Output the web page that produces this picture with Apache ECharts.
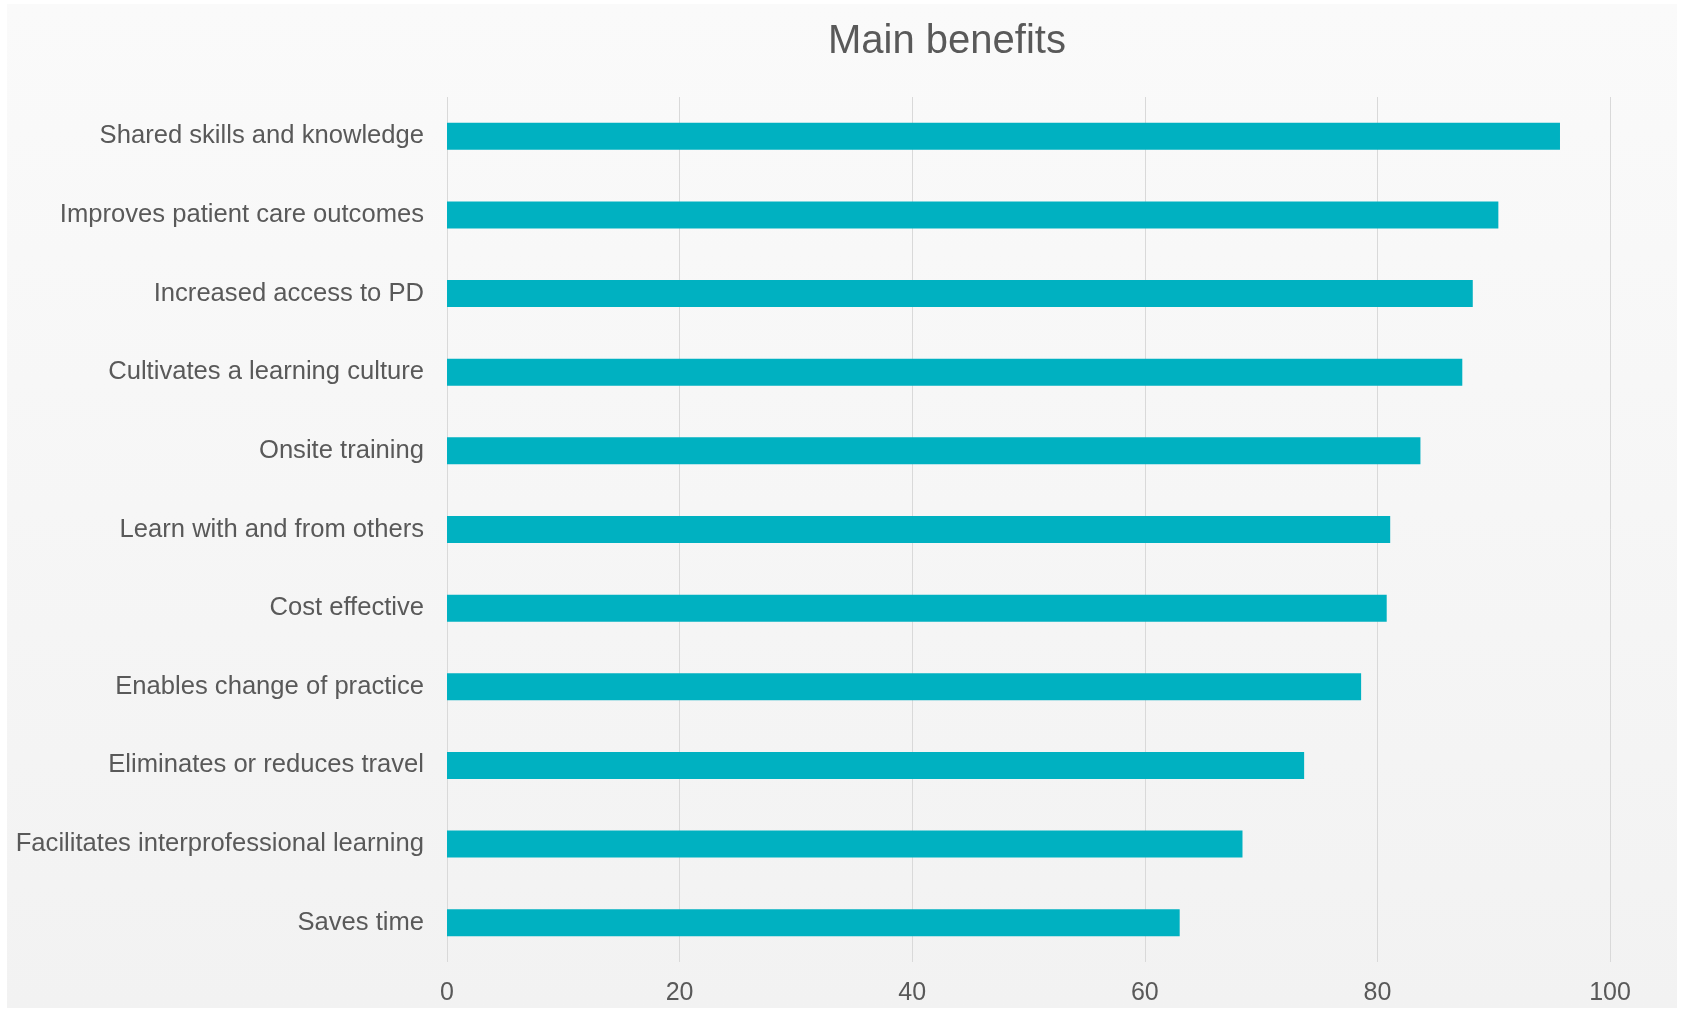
<!DOCTYPE html>
<html>
<head>
<meta charset="utf-8">
<title>Main benefits</title>
<script src="https://cdn.jsdelivr.net/npm/echarts@6/dist/echarts.min.js"></script>
<style>
  html, body { margin: 0; padding: 0; background: #ffffff; }
  #main { width: 1681px; height: 1010px; }
</style>
</head>
<body>
<div id="main"></div>
<script>
// categories, top to bottom
var benefits = [
  'Shared skills and knowledge',
  'Improves patient care outcomes',
  'Increased access to PD',
  'Cultivates a learning culture',
  'Onsite training',
  'Learn with and from others',
  'Cost effective',
  'Enables change of practice',
  'Eliminates or reduces travel',
  'Facilitates interprofessional learning',
  'Saves time'
];
// percent of respondents
var percents = [95.7, 90.4, 88.2, 87.3, 83.7, 81.1, 80.8, 78.6, 73.7, 68.4, 63.0];
var axisTicks = [0, 20, 40, 60, 80, 100];

var chart = echarts.init(document.getElementById('main'), null, { renderer: 'canvas' });

var textColor = '#595959';
var fontFam = '"Liberation Sans", Arial, sans-serif';

var option = {
  backgroundColor: '#ffffff',
  animation: false,
  graphic: [{
    type: 'rect',
    z: -10,
    shape: { x: 7, y: 4, width: 1670, height: 1004 },
    style: {
      fill: new echarts.graphic.LinearGradient(0, 0, 0, 1, [
        { offset: 0, color: '#fafafa' },
        { offset: 1, color: '#f2f2f2' }
      ])
    }
  }],
  title: {
    text: 'Main benefits',
    left: 823,
    top: 17,
    textStyle: {
      color: textColor,
      fontFamily: fontFam,
      fontWeight: 'normal',
      fontSize: 40
    }
  },
  grid: {
    left: 447,
    right: 71,
    top: 97,
    bottom: 48,
    containLabel: false
  },
  xAxis: {
    type: 'value',
    min: axisTicks[0],
    max: axisTicks[axisTicks.length - 1],
    interval: axisTicks[1] - axisTicks[0],
    axisLine: { show: false },
    axisTick: { show: false },
    splitLine: { show: true, lineStyle: { color: '#d9d9d9', width: 1 } },
    axisLabel: {
      color: textColor,
      fontFamily: fontFam,
      fontSize: 25,
      margin: 19
    }
  },
  yAxis: {
    type: 'category',
    inverse: true,
    data: benefits,
    axisLine: { show: false },
    axisTick: { show: false },
    splitLine: { show: false },
    axisLabel: {
      color: textColor,
      fontFamily: fontFam,
      fontSize: 25.6,
      margin: 23,
      padding: [11, 0, 0, 0]
    }
  },
  series: [{
    type: 'bar',
    data: percents,
    barWidth: 27,
    itemStyle: { color: '#00b1c1' }
  }]
};

chart.setOption(option);
</script>
</body>
</html>
